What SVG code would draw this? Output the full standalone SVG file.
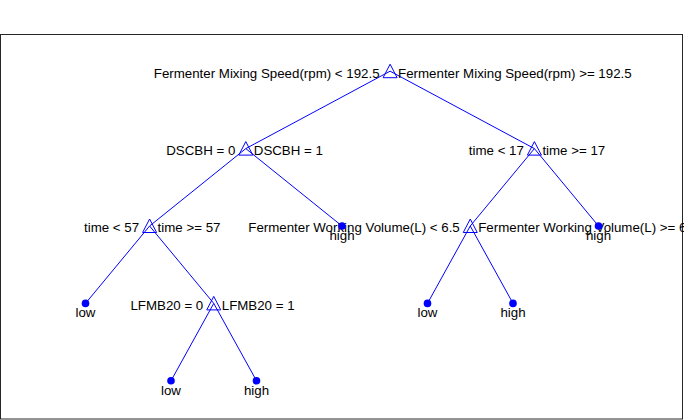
<svg xmlns="http://www.w3.org/2000/svg" width="684" height="420" viewBox="0 0 684 420">
<style>
.frame{fill:none;stroke:#262626;stroke-width:1}
.edge{stroke:#0000ff;stroke-width:1;fill:none}
.tri{fill:none;stroke:#0000ff;stroke-width:1}
.dot{fill:#0000ff}
text{font-family:"Liberation Sans",Arial,sans-serif;font-size:13.3px;fill:#000}
.l{text-anchor:end}
.r{text-anchor:start}
.c{text-anchor:middle}
</style>
<defs>
<path id="tri" d="M0,-7 L7,6.5 L-7,6.5 Z"/>
</defs>
<rect width="684" height="420" fill="#fff"/>
<rect class="frame" x="0.5" y="34.5" width="682" height="384.5"/>
<g id="connectors">
<line class="edge" x1="390.1" y1="71.2" x2="245.8" y2="148.6"/>
<line class="edge" x1="390.1" y1="71.2" x2="534.4" y2="148.6"/>
<line class="edge" x1="245.8" y1="148.6" x2="149.6" y2="226"/>
<line class="edge" x1="245.8" y1="148.6" x2="342" y2="226"/>
<line class="edge" x1="534.4" y1="148.6" x2="470.25" y2="226"/>
<line class="edge" x1="534.4" y1="148.6" x2="598.5" y2="226"/>
<line class="edge" x1="149.6" y1="226" x2="85.5" y2="303.4"/>
<line class="edge" x1="149.6" y1="226" x2="213.75" y2="303.4"/>
<line class="edge" x1="470.25" y1="226" x2="427.5" y2="303.4"/>
<line class="edge" x1="470.25" y1="226" x2="513" y2="303.4"/>
<line class="edge" x1="213.75" y1="303.4" x2="171" y2="380.8"/>
<line class="edge" x1="213.75" y1="303.4" x2="256.5" y2="380.8"/>
</g>
<g id="node-root">
<text class="l" x="379.6" y="77.5">Fermenter Mixing Speed(rpm) &lt; 192.5</text>
<text class="r" x="398.1" y="77.5">Fermenter Mixing Speed(rpm) &gt;= 192.5</text>
<use href="#tri" class="tri" x="390.1" y="71.2"/>
</g>
<g id="node-dscbh">
<text class="l" x="235.3" y="154.9">DSCBH = 0</text>
<text class="r" x="253.8" y="154.9">DSCBH = 1</text>
<use href="#tri" class="tri" x="245.8" y="148.6"/>
</g>
<g id="node-time17">
<text class="l" x="523.9" y="154.9">time &lt; 17</text>
<text class="r" x="542.4" y="154.9">time &gt;= 17</text>
<use href="#tri" class="tri" x="534.4" y="148.6"/>
</g>
<g id="node-time57">
<text class="l" x="139.1" y="232.3">time &lt; 57</text>
<text class="r" x="157.6" y="232.3">time &gt;= 57</text>
<use href="#tri" class="tri" x="149.6" y="226"/>
</g>
<g id="node-fwv">
<text class="l" x="459.75" y="232.3">Fermenter Working Volume(L) &lt; 6.5</text>
<text class="r" x="478.25" y="232.3">Fermenter Working Volume(L) &gt;= 6.5</text>
<use href="#tri" class="tri" x="470.25" y="226"/>
</g>
<g id="node-lfmb20">
<text class="l" x="203.25" y="309.7">LFMB20 = 0</text>
<text class="r" x="221.75" y="309.7">LFMB20 = 1</text>
<use href="#tri" class="tri" x="213.75" y="303.4"/>
</g>
<g id="leaf-high-1">
<circle class="dot" cx="342" cy="226" r="3.8"/>
<text class="c" x="342" y="239.7">high</text>
</g>
<g id="leaf-high-2">
<circle class="dot" cx="598.5" cy="226" r="3.8"/>
<text class="c" x="598.5" y="239.7">high</text>
</g>
<g id="leaf-low-1">
<circle class="dot" cx="85.5" cy="303.4" r="3.8"/>
<text class="c" x="85.5" y="317.1">low</text>
</g>
<g id="leaf-low-2">
<circle class="dot" cx="427.5" cy="303.4" r="3.8"/>
<text class="c" x="427.5" y="317.1">low</text>
</g>
<g id="leaf-high-3">
<circle class="dot" cx="513" cy="303.4" r="3.8"/>
<text class="c" x="513" y="317.1">high</text>
</g>
<g id="leaf-low-3">
<circle class="dot" cx="171" cy="380.8" r="3.8"/>
<text class="c" x="171" y="394.5">low</text>
</g>
<g id="leaf-high-4">
<circle class="dot" cx="256.5" cy="380.8" r="3.8"/>
<text class="c" x="256.5" y="394.5">high</text>
</g>
</svg>
